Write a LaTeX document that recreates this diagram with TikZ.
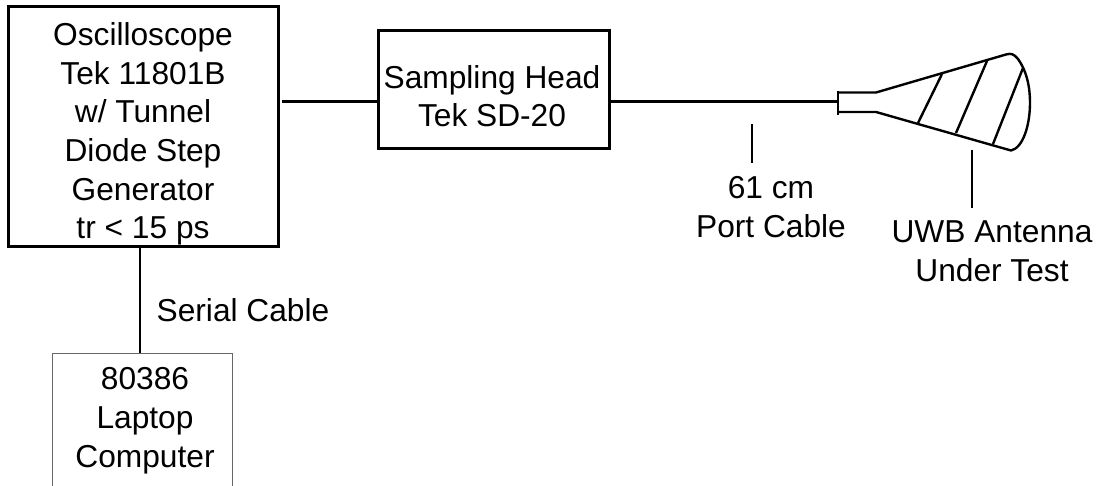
\documentclass[tikz,border=0pt]{standalone}
\usepackage{fontspec}
\setmainfont{Liberation Sans}
\newcommand{\toppad}[1]{\rule{0pt}{#1}}
\newcommand{\botpad}[1]{\rule[-#1]{0pt}{#1}}
\tikzset{
  lbl/.style={font=\fontsize{31.7}{38.6}\selectfont,align=center,inner sep=0pt},
  heavybox/.style={draw=black,line width=3pt,rectangle,inner sep=0pt,lbl},
  thinbox/.style={draw=black!60,line width=1pt,rectangle,inner sep=0pt,lbl},
  wire/.style={draw=black,line width=2.4pt},
  ant/.style={draw=black,line width=2.4pt,line join=round},
  callout/.style={draw=black,line width=1.6pt},
}
\begin{document}
\begin{tikzpicture}[x=1pt,y=-1pt]
\useasboundingbox (0,0) rectangle (1101,486);
\clip (0,0) rectangle (1101,486);
\node[heavybox,minimum width=270pt,minimum height=240pt] (scope) at (143,126.5) {\toppad{38pt}Oscilloscope\\Tek 11801B\\w/ Tunnel\\Diode Step\\Generator\\tr < 15 ps};
\node[heavybox,minimum width=231pt,minimum height=118pt] (head) at (493.5,89.5) {\toppad{36pt}Sampling Head\hspace*{3pt}\\Tek SD-20\hspace*{3pt}};
\node[thinbox,minimum width=180pt,minimum height=162pt] (laptop) at (142,435) {\hspace*{6pt}80386\\\hspace*{6pt}Laptop\\\hspace*{6pt}Computer\botpad{35pt}};
\coordinate (scopeout) at (282,101.5);
\draw[wire] (scopeout) -- (scopeout -| head.west);
\coordinate (antin) at (838,101.5);
\draw[wire] (head.east |- antin) -- (antin);
\coordinate (serialbot) at (140,353);
\draw[wire] (scope.south -| serialbot) -- (serialbot);
% antenna
\draw[ant] (838,91) -- (838,115);
\draw[ant] (838,92.5) -- (876,92.5) -- (1006,54.5) .. controls (1011,53) and (1014,54) .. (1018,59)
  .. controls (1026,70) and (1030,85) .. (1030,103)
  .. controls (1030,125) and (1023,148) .. (1011,150.5) -- (876,112) -- (838,112);
\draw[ant] (942,74) -- (918,123);
\draw[ant] (987,61) -- (956,133);
\draw[ant] (1023,68) -- (993,144);
% callouts
\coordinate (ca1) at (752,124); \coordinate (ca2) at (752,163);
\draw[callout] (ca1) -- (ca2);
\coordinate (cb1) at (972,150); \coordinate (cb2) at (972,208);
\draw[callout] (cb1) -- (cb2);
\node[lbl] (serial) at (243,310.5) {Serial Cable};
\node[lbl] (port) at (771,207) {61 cm\\Port Cable};
\node[lbl] (uwb) at (992,251.5) {UWB Antenna\\Under Test};
\end{tikzpicture}
\end{document}
